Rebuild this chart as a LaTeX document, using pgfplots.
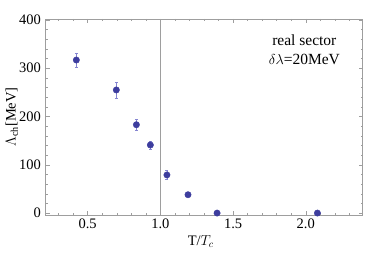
\documentclass[border=0pt]{standalone}
\usepackage{pgfplots}
\pgfplotsset{compat=1.18}
\usepackage{fontspec}
\setmainfont{Liberation Serif}
\definecolor{ptc}{rgb}{0.24,0.24,0.62}
\definecolor{errc}{rgb}{0.52,0.52,0.82}
\definecolor{framec}{rgb}{0.62,0.62,0.62}
\begin{document}
\begin{tikzpicture}
\useasboundingbox (-45.5pt,-38pt) rectangle (336.5pt,215pt);
\begin{axis}[
  at={(0pt,0pt)}, anchor=south west,
  scale only axis, width=317pt, height=196pt,
  xmin=0.21, xmax=2.39, ymin=-4, ymax=402,
  xtick={0.5,1.0,1.5,2.0},
  xticklabels={0.5,1.0,1.5,2.0},
  minor xtick={0.3,0.4,0.6,0.7,0.8,0.9,1.1,1.2,1.3,1.4,1.6,1.7,1.8,1.9,2.1,2.2,2.3},
  ytick={0,100,200,300,400},
  minor ytick={20,40,60,80,120,140,160,180,220,240,260,280,320,340,360,380},
  tick align=inside,
  major tick length=4pt, minor tick length=2pt,
  every tick/.style={framec, line width=0.5pt},
  axis line style={framec, line width=0.6pt},
  tick label style={font=\fontsize{14.5}{16}\selectfont, black},
  /pgf/number format/assume math mode=true,
  xlabel={T/$T_c$}, ylabel={$\Lambda_{\mathrm{ch}}$[MeV]},
  label style={font=\fontsize{14.5}{16}\selectfont},
  xlabel style={at={(axis description cs:0.49,0)}, anchor=north, yshift=-17pt},
  ylabel style={at={(axis description cs:0,0.5)}, anchor=south, yshift=24pt},
  yticklabel style={xshift=-1pt},
  clip=false,
]
\draw[framec, line width=0.5pt] (axis cs:1.0,-4) -- (axis cs:1.0,402);
\addplot[only marks, mark=*, mark size=3.2pt, color=ptc,
  mark options={fill=ptc, draw=ptc},
  error bars/.cd, y dir=both, y explicit,
  error bar style={errc, line width=0.8pt}, error mark options={errc, mark size=1.5pt, rotate=90}]
  coordinates {
  (0.422,317) +- (0,14)
  (0.697,255) +- (0,17)
  (0.835,183) +- (0,11)
  (0.931,141) +- (0,8)
  (1.045,79) +- (0,9)
  (1.19,38) +- (0,3)
  (1.39,0) +- (0,2)
  (2.08,0) +- (0,2)
  };
\node[align=center, font=\fontsize{15.5}{19}\selectfont] at (axis cs:1.99,338) {real sector\\$\delta\lambda$=20MeV};
\end{axis}
\end{tikzpicture}
\end{document}
